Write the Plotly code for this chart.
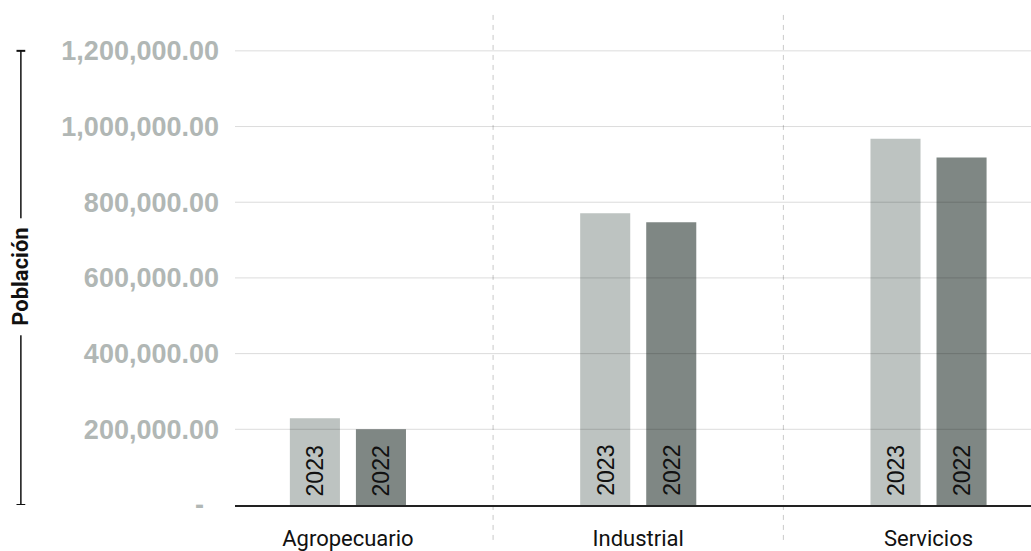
import plotly.graph_objects as go

# Población por sector económico, 2023 frente a 2022
sectores = ["Agropecuario", "Industrial", "Servicios"]
poblacion_2023 = [229000, 771000, 968000]
poblacion_2022 = [200000, 747000, 918000]
anios = ["2023", "2022"]

# Marcas del eje vertical
valores_eje = [0, 200000, 400000, 600000, 800000, 1000000, 1200000]
etiquetas_eje = ["-\u00a0\u00a0", "200,000.00", "400,000.00", "600,000.00",
                 "800,000.00", "1,000,000.00", "1,200,000.00"]

color_2023 = "#bdc3c1"
color_2022 = "#7f8784"
gris_texto = "#b1b7b5"
fuente_titulos = "Roboto, sans-serif"

fig = go.Figure()
for anio, valores, color in [(anios[0], poblacion_2023, color_2023),
                             (anios[1], poblacion_2022, color_2022)]:
    fig.add_trace(go.Bar(
        name=anio, x=sectores, y=valores,
        marker=dict(color=color, line=dict(width=0)),
        hoverinfo="x+y+name",
    ))

# Rótulos del año dentro de cada barra, en vertical y junto a la base
for i, anio in enumerate(anios):
    desplazamiento = -33 if i == 0 else 33
    for s in sectores:
        fig.add_annotation(
            x=s, y=0, xref="x", yref="y", text=anio, textangle=-90,
            xshift=desplazamiento, yshift=7, xanchor="center", yanchor="bottom",
            showarrow=False, font=dict(family="Liberation Sans, Arial, sans-serif",
                                       size=23, color="#111111"),
        )

# Líneas de cuadrícula dibujadas sobre las barras
for v in valores_eje[1:]:
    fig.add_shape(type="line", xref="paper", yref="y", x0=0, x1=1, y0=v, y1=v,
                  line=dict(color="rgba(0,0,0,0.14)", width=1), layer="above")

# Separadores discontinuos entre sectores
for k in range(len(sectores) - 1):
    fig.add_shape(type="line", xref="x", yref="paper", x0=k + 0.5, x1=k + 0.5,
                  y0=-0.071, y1=1.0,
                  line=dict(color="#c9c9c9", width=1, dash="5px,5px"), layer="below")

# Corchete del título del eje vertical
xc = -0.269
fig.add_shape(type="line", xref="paper", yref="y", x0=xc, x1=xc,
              y0=valores_eje[0], y1=valores_eje[-1], line=dict(color="#111111", width=1.5))
for v in (valores_eje[0], valores_eje[-1]):
    fig.add_shape(type="line", xref="paper", yref="y", x0=xc - 0.0055, x1=xc + 0.0055,
                  y0=v, y1=v, line=dict(color="#111111", width=2))

fig.add_annotation(
    x=xc, y=0.4636, xref="paper", yref="paper", text="<b>Población</b>", textangle=-90,
    showarrow=False, bgcolor="white", borderpad=9, xanchor="center", yanchor="middle",
    font=dict(family=fuente_titulos, size=22, color="#111111"),
)

fig.update_layout(
    width=1031, height=551,
    margin=dict(l=235, r=0, t=13, b=44),
    paper_bgcolor="white", plot_bgcolor="white",
    barmode="group", bargap=0.545, bargroupgap=0.242,
    showlegend=False,
    xaxis=dict(
        type="category", range=[-0.389, 2.353],
        showgrid=False, zeroline=False,
        showline=True, linecolor="#222222", linewidth=1.5,
        ticks="", ticklabelstandoff=13,
        tickfont=dict(family=fuente_titulos, size=22, color="#111111"),
    ),
    yaxis=dict(
        range=[0, 1300000], showgrid=False, zeroline=False, showline=False,
        tickvals=valores_eje, ticktext=["<b>" + t + "</b>" for t in etiquetas_eje],
        ticks="", ticklabelstandoff=15,
        tickfont=dict(family="Liberation Sans, Arial, sans-serif", size=27, color=gris_texto),
    ),
)

fig.write_html("out.html")
